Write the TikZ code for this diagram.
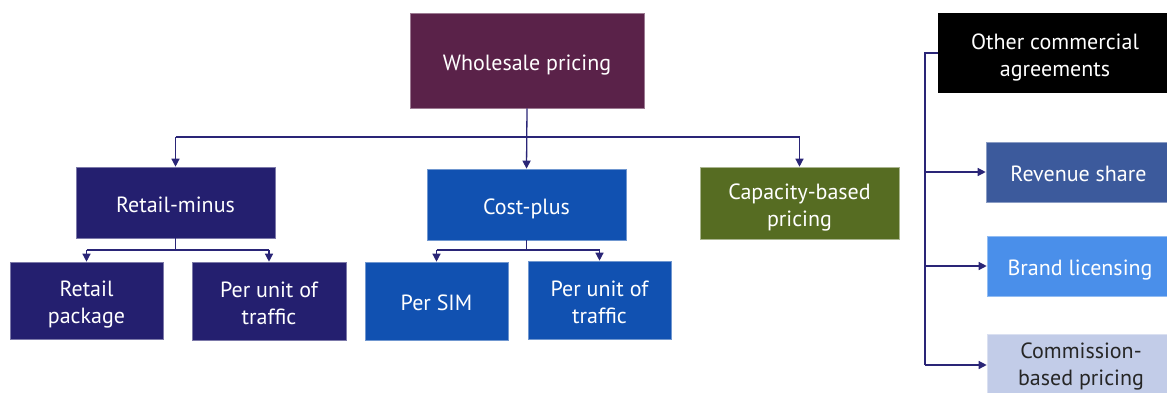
\documentclass[tikz,border=0pt]{standalone}
\usepackage{fontspec}
\setmainfont{PT Sans}
\usetikzlibrary{arrows.meta}
\definecolor{cWhole}{HTML}{5A2249}
\definecolor{cRetail}{HTML}{241F6F}
\definecolor{cCost}{HTML}{1151B1}
\definecolor{cCap}{HTML}{566C22}
\definecolor{cRev}{HTML}{3C5A9C}
\definecolor{cBrand}{HTML}{4A8FEA}
\definecolor{cComm}{HTML}{C2CCE8}
\definecolor{cLine}{HTML}{2A2577}
% box label: centred lines, drawn a little below the box centre
\newcommand\boxlabel[2][-4.5pt]{\raisebox{#1}[\height][\depth]{\begin{tabular}{@{}c@{}}#2\end{tabular}}}
\tikzset{
  box/.style={rectangle, inner sep=0pt, text=white,
    font=\fontsize{22}{27}\selectfont, line width=0.6pt},
  link/.style={draw=cLine, line width=1.3pt},
  arr/.style={link, -{Triangle[length=8pt,width=8pt]}},
}
\begin{document}
\begin{tikzpicture}[x=1pt,y=-1pt]
\useasboundingbox (0,0) rectangle (1167,392);
\clip (0,0) rectangle (1167,392);
% top level
\node[box, fill=cWhole, draw=cWhole!60!white, minimum width=234pt, minimum height=95pt] (W) at (527,60.5) {\boxlabel{Wholesale pricing}};
% second level
\node[box, fill=cRetail, draw=cRetail!60!white, minimum width=199pt, minimum height=71pt] (RM) at (175.5,202.5) {\boxlabel{Retail-minus}};
\node[box, fill=cCost, draw=cCost!60!white, minimum width=199pt, minimum height=71pt] (CP) at (526.5,204.5) {\boxlabel{Cost-plus}};
\node[box, fill=cCap, draw=cCap!50!white, minimum width=199pt, minimum height=72pt] (CB) at (799.5,203) {\boxlabel{Capacity-based\\pricing}};
% third level
\node[box, fill=cRetail, draw=cRetail!60!white, minimum width=153pt, minimum height=77pt] (RP) at (86.5,300.5) {\boxlabel{Retail\\package}};
\node[box, fill=cRetail, draw=cRetail!60!white, minimum width=154pt, minimum height=78pt] (RU) at (269,301) {\boxlabel{Per unit of\\traffic}};
\node[box, fill=cCost, draw=cCost!60!white, minimum width=143pt, minimum height=78pt] (PS) at (436.5,301) {\boxlabel{Per SIM}};
\node[box, fill=cCost, draw=cCost!60!white, minimum width=143pt, minimum height=78pt] (CU) at (599.5,300) {\boxlabel{Per unit of\\traffic}};
% right column
\node[box, fill=black, minimum width=234pt, minimum height=80pt] (OC) at (1055,53) {\boxlabel{Other commercial\\agreements}};
\node[box, fill=cRev, draw=cRev!60!white, minimum width=185pt, minimum height=60pt] (RS) at (1078.5,172) {\boxlabel{Revenue share}};
\node[box, fill=cBrand, draw=cBrand!60!white, minimum width=186pt, minimum height=60pt] (BL) at (1080,266) {\boxlabel{Brand licensing}};
\node[box, fill=cComm, draw=cComm!60!white, text=black!85, minimum width=188pt, minimum height=62pt] (CM) at (1081,365) {\boxlabel[-2pt]{Commission-\\based pricing}};
% connectors: wholesale pricing to its three kinds
\coordinate (bus) at (527,137);
\draw[arr] (W.south) -- (CP.north);
\draw[link] (RM.north |- bus) -- (CB.north |- bus);
\draw[arr] (RM.north |- bus) -- (RM.north);
\draw[arr] (CB.north |- bus) -- (CB.north);
% retail-minus children
\coordinate (rmbus) at (175.5,250);
\draw[link] (RM.south) -- (rmbus);
\draw[link] (RP.north |- rmbus) -- (RU.north |- rmbus);
\draw[arr] (RP.north |- rmbus) -- (RP.north);
\draw[arr] (RU.north |- rmbus) -- (RU.north);
% cost-plus children
\coordinate (cpbus) at (526.5,250);
\draw[link] (CP.south) -- (cpbus);
\draw[link] (PS.north |- cpbus) -- (CU.north |- cpbus);
\draw[arr] (PS.north |- cpbus) -- (PS.north);
\draw[arr] (CU.north |- cpbus) -- (CU.north);
% other commercial agreements
\coordinate (spine) at (925,53);
\draw[link] (OC.west) -- (spine) -- (spine |- CM.west);
\draw[arr] (spine |- RS.west) -- (RS.west);
\draw[arr] (spine |- BL.west) -- (BL.west);
\draw[arr] (spine |- CM.west) -- (CM.west);
\end{tikzpicture}
\end{document}
